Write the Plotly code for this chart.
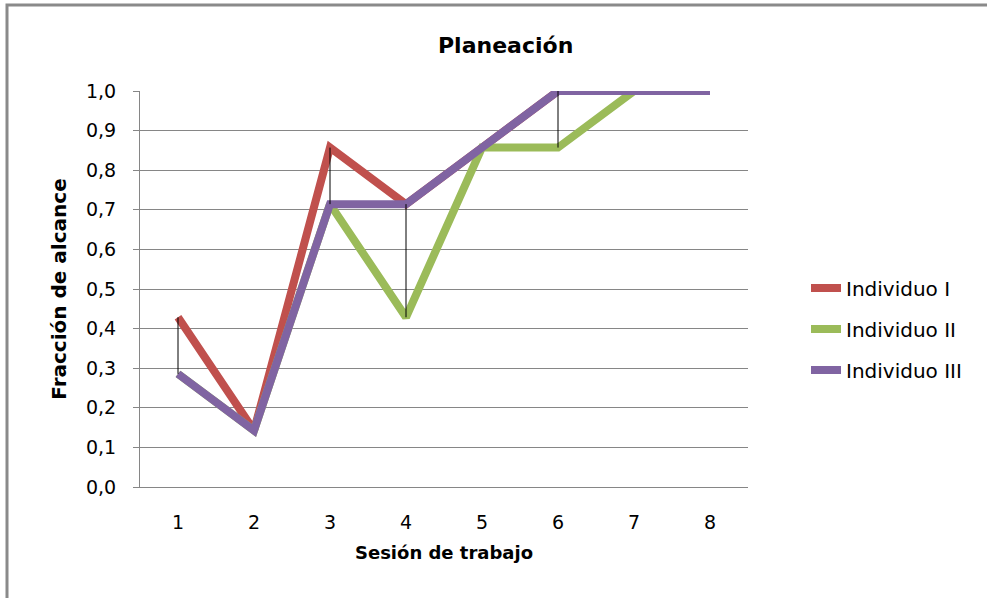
import plotly.graph_objects as go

sesiones = [1, 2, 3, 4, 5, 6, 7, 8]
individuo_1 = [0.4286, 0.1429, 0.8571, 0.7143, 0.8571, 1.0, 1.0, 1.0]
individuo_2 = [0.2857, 0.1429, 0.7143, 0.4286, 0.8571, 0.8571, 1.0, 1.0]
individuo_3 = [0.2857, 0.1429, 0.7143, 0.7143, 0.8571, 1.0, 1.0, 1.0]
nombres = ["Individuo I", "Individuo II", "Individuo III"]
colores = ["#C0504D", "#9BBB59", "#8064A2"]
y_ticks = [0.0, 0.1, 0.2, 0.3, 0.4, 0.5, 0.6, 0.7, 0.8, 0.9, 1.0]

FONT = "DejaVu Sans, sans-serif"
fig = go.Figure()
for name, vals, col in zip(nombres, [individuo_1, individuo_2, individuo_3], colores):
    fig.add_trace(go.Scatter(x=sesiones, y=vals, mode="lines", name=name,
                             legendgroup=name,
                             line=dict(color=col, width=8)))

# high-low lines
hx, hy = [], []
for i, s in enumerate(sesiones):
    vals = [individuo_1[i], individuo_2[i], individuo_3[i]]
    lo, hi = min(vals), max(vals)
    if hi > lo:
        hx += [s, s, None]
        hy += [lo, hi, None]
fig.add_trace(go.Scatter(x=hx, y=hy, mode="lines", showlegend=False,
                         line=dict(color="black", width=1), hoverinfo="skip"))

L, R, T, B = 140, 239, 91, 111
W, H = 987, 598
pw, ph = W - L - R, H - T - B

fig.update_layout(
    width=W, height=H,
    margin=dict(l=L, r=R, t=T, b=B),
    paper_bgcolor="white", plot_bgcolor="white",
    separators=",.",
    font=dict(family=FONT, size=19, color="black"),
    showlegend=True,
    legend=dict(x=(806 - L) / pw, y=(H - B - 329) / ph, xanchor="left", yanchor="middle",
                font=dict(size=20, family=FONT), tracegroupgap=12, itemwidth=30),
    annotations=[
        dict(text="<b>Planeación</b>", x=(505 - L) / pw, y=1 + (T - 45) / ph,
             xref="paper", yref="paper", showarrow=False, yanchor="middle",
             font=dict(size=22, family=FONT)),
    ],
    shapes=[
        dict(type="rect", xref="paper", yref="paper",
             x0=(7 - L) / pw, x1=(1010 - L) / pw,
             y0=(H - B - 620) / ph, y1=1 + (T - 5) / ph,
             line=dict(color="#8a8a8a", width=3), layer="below"),
    ],
)
fig.update_xaxes(range=[0.5, 8.5], tickvals=sesiones, showgrid=False,
                 showline=True, linecolor="#868686", linewidth=1,
                 ticks="", ticklabelstandoff=18,
                 title=dict(text="<b>Sesión de trabajo</b>", font=dict(size=18), standoff=14),
                 tickfont=dict(size=19), zeroline=False)
fig.update_yaxes(range=[0, 1], tickvals=y_ticks, tickformat=".1f",
                 showgrid=True, gridcolor="#868686", gridwidth=1,
                 showline=True, linecolor="#868686", linewidth=1,
                 ticks="outside", ticklen=6, tickcolor="#868686",
                 ticklabelstandoff=13,
                 title=dict(text="<b>Fracción de alcance</b>", font=dict(size=20), standoff=13),
                 tickfont=dict(size=19), zeroline=False)

fig.write_html("out.html", config={"displayModeBar": False},
               post_script="document.body.style.margin='0';")
